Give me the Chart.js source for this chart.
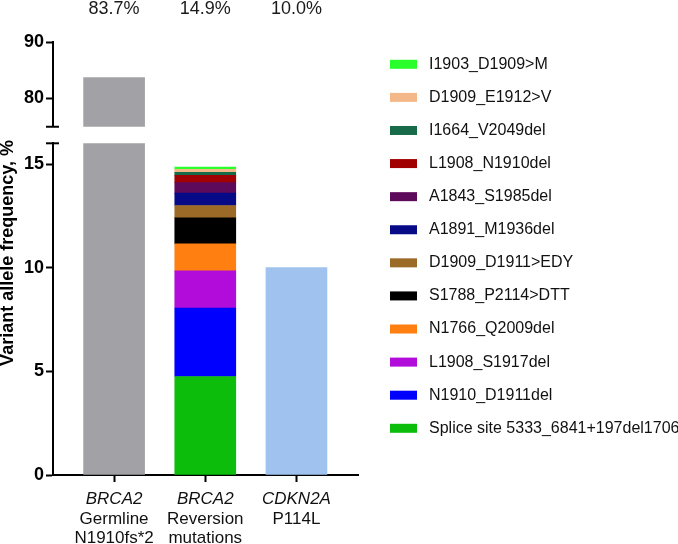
<!DOCTYPE html>
<html>
<head>
<meta charset="utf-8">
<script src="https://cdn.jsdelivr.net/npm/chart.js@4"></script>
<style>
  html, body { margin: 0; padding: 0; background: #fff; }
  #wrap { position: relative; width: 678px; height: 544px; }
  #wrap canvas { position: absolute; left: 0; top: 0; }
</style>
</head>
<body>
<div id="wrap">
  <canvas id="lowChart" width="678" height="544"></canvas>
  <canvas id="topChart" width="678" height="140"></canvas>
</div>
<script>
// data
const geneNames = ['BRCA2', 'BRCA2', 'CDKN2A'];
const subLabels = [['Germline', 'N1910fs*2'], ['Reversion', 'mutations'], ['P114L']];
const totalLabels = ['83.7%', '14.9%', '10.0%'];
const germlineValue = 83.7;
const cdkn2aValue = 10.0;
const mutationLabels = [
  'Splice site 5333_6841+197del1706', 'N1910_D1911del', 'L1908_S1917del', 'N1766_Q2009del',
  'S1788_P2114>DTT', 'D1909_D1911>EDY', 'A1891_M1936del', 'A1843_S1985del',
  'L1908_N1910del', 'I1664_V2049del', 'D1909_E1912>V', 'I1903_D1909>M'
];
const mutationValues = [4.75, 3.3, 1.8, 1.3, 1.25, 0.6, 0.6, 0.5, 0.35, 0.15, 0.15, 0.1];
const mutationColors = [
  '#0cbd0c', '#0000ff', '#b10cd9', '#ff8010', '#000000', '#9b6a26',
  '#060a87', '#5e0a5a', '#a00000', '#186b48', '#f4b888', '#2bff2b'
];
const lowTicks = [0, 5, 10, 15];
const topTicks = [80, 90];

const FONT = '"Liberation Sans", Arial, Helvetica, sans-serif';
Chart.defaults.font.family = FONT;
Chart.defaults.color = '#111';

const xMin = -0.67, xMax = 2.675;
const catTicks = s => { s.ticks = [0, 1, 2].map(v => ({ value: v })); };

// little horizontal caps at the axis break
const breakCap = {
  id: 'breakCap',
  afterDraw(chart, args, opts) {
    const y = chart.scales.y;
    const py = y.getPixelForValue(opts.value);
    const ctx = chart.ctx;
    ctx.save();
    ctx.strokeStyle = '#000';
    ctx.lineWidth = 2;
    ctx.beginPath();
    ctx.moveTo(y.right - 7, py);
    ctx.lineTo(y.right + 6, py);
    ctx.stroke();
    ctx.restore();
  }
};

const sideLegend = {
  id: 'sideLegend',
  afterDraw(chart) {
    const ctx = chart.ctx;
    const items = chart.data.datasets.filter(d => d.inLegend).reverse();
    ctx.save();
    ctx.font = '16px ' + FONT;
    ctx.textBaseline = 'middle';
    ctx.textAlign = 'left';
    items.forEach((d, i) => {
      const cy = 64.3 + i * 33.09;
      ctx.fillStyle = d.backgroundColor;
      ctx.fillRect(390, cy - 4.5, 27, 9);
      ctx.fillStyle = '#111';
      ctx.fillText(d.label, 429, cy);
    });
    ctx.restore();
  }
};

const yTitle = {
  id: 'yTitle',
  afterDraw(chart) {
    const ctx = chart.ctx;
    ctx.save();
    ctx.translate(8, 253);
    ctx.rotate(-Math.PI / 2);
    ctx.font = 'bold 18px ' + FONT;
    ctx.fillStyle = '#000';
    ctx.textAlign = 'center';
    ctx.textBaseline = 'middle';
    ctx.fillText('Variant allele frequency, %', 0, 0);
    ctx.restore();
  }
};

const totals = {
  id: 'totals',
  afterDraw(chart) {
    const ctx = chart.ctx;
    const x = chart.scales.x;
    ctx.save();
    ctx.font = '18px ' + FONT;
    ctx.fillStyle = '#1a1a1a';
    ctx.textAlign = 'center';
    ctx.textBaseline = 'middle';
    totalLabels.forEach((t, i) => ctx.fillText(t, x.getPixelForValue(i), 9));
    ctx.restore();
  }
};

const yAxisStyle = {
  border: { color: '#000', width: 2 },
  grid: { drawOnChartArea: false, tickLength: 7, tickColor: '#000', tickWidth: 2 },
  ticks: { font: { size: 18, weight: 'bold' }, padding: 2, color: '#000' },
  afterFit: s => { s.width = 53; }
};

const lowDatasets = [
  { label: 'BRCA2 Germline', data: [{ x: 0, y: germlineValue }], backgroundColor: '#a2a2a6', clip: 0 },
  ...mutationLabels.map((l, i) => ({
    label: l, data: [{ x: 1, y: mutationValues[i] }], backgroundColor: mutationColors[i], inLegend: true
  })),
  { label: 'CDKN2A P114L', data: [{ x: 2, y: cdkn2aValue }], backgroundColor: '#9fc3ee' }
];

new Chart(document.getElementById('lowChart'), {
  type: 'bar',
  data: { datasets: lowDatasets },
  options: {
    responsive: false, animation: false, devicePixelRatio: 1,
    layout: { padding: { top: 143.3, right: 320, left: 0, bottom: 0 } },
    plugins: { legend: { display: false }, tooltip: { enabled: false }, breakCap: { value: 16 } },
    datasets: { bar: { barThickness: 61 } },
    scales: {
      x: {
        type: 'linear', min: xMin, max: xMax, stacked: true, offset: false,
        afterBuildTicks: catTicks, afterFit: s => { s.height = 32.5; },
        border: { display: true, color: '#000', width: 2 },
        grid: { offset: false, drawOnChartArea: false, tickLength: 7, tickColor: '#000', tickWidth: 2 },
        ticks: { font: { size: 17, style: 'italic', lineHeight: 1 }, padding: 8.5, maxRotation: 0,
                 autoSkip: false, color: '#111', callback: v => geneNames[v] }
      },
      x2: {
        type: 'linear', position: 'bottom', min: xMin, max: xMax, offset: false,
        afterBuildTicks: catTicks, afterFit: s => { s.height = 36.5; },
        border: { display: false }, grid: { display: false, drawTicks: false, offset: false },
        ticks: { font: { size: 17, lineHeight: 1.09 }, padding: 2.75, maxRotation: 0,
                 autoSkip: false, color: '#111', callback: v => subLabels[v] }
      },
      y: Object.assign({ stacked: true, min: 0, max: 16,
        afterBuildTicks: s => { s.ticks = lowTicks.map(v => ({ value: v })); } }, yAxisStyle)
    }
  },
  plugins: [breakCap, sideLegend, yTitle]
});

new Chart(document.getElementById('topChart'), {
  type: 'bar',
  data: { datasets: [{ label: 'BRCA2 Germline', data: [{ x: 0, y: germlineValue }], backgroundColor: '#a2a2a6', clip: 0 }] },
  options: {
    responsive: false, animation: false, devicePixelRatio: 1,
    layout: { padding: { top: 42, right: 320, left: 0, bottom: 13.25 } },
    plugins: { legend: { display: false }, tooltip: { enabled: false }, breakCap: { value: 75 } },
    datasets: { bar: { barThickness: 61 } },
    scales: {
      x: { type: 'linear', min: xMin, max: xMax, display: false, offset: false, grid: { offset: false } },
      y: Object.assign({ min: 75, max: 90,
        afterBuildTicks: s => { s.ticks = topTicks.map(v => ({ value: v })); } }, yAxisStyle)
    }
  },
  plugins: [breakCap, totals]
});
</script>
</body>
</html>
